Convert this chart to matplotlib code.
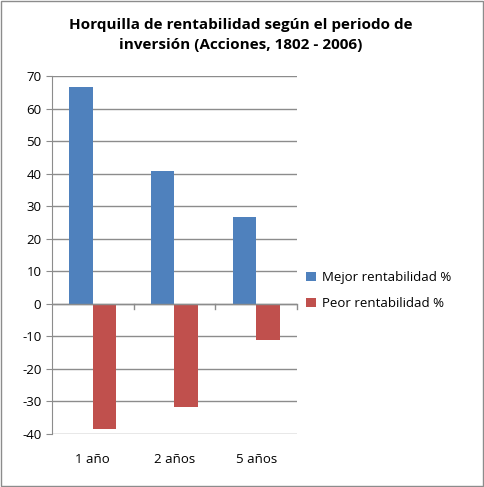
import matplotlib.pyplot as plt
import numpy as np

categorias = ["1 año", "2 años", "5 años"]
mejor = [66.6, 40.8, 26.7]
peor = [-38.6, -31.8, -11.0]

plt.rcParams['font.family'] = ['Open Sans', 'DejaVu Sans']
plt.rcParams['axes.unicode_minus'] = False
fig = plt.figure(figsize=(4.84, 4.87), dpi=100)
ax = fig.add_axes([0.107, 0.109, 0.507, 0.735])

x = np.arange(len(categorias))
w = 0.285
ax.bar(x - w / 2, mejor, w, color="#4f81bd", label="Mejor rentabilidad %", zorder=3)
ax.bar(x + w / 2, peor, w, color="#c0504d", label="Peor rentabilidad %", zorder=3)

ax.set_xlim(-0.5, 2.5)
ax.set_ylim(-40, 70)
ax.set_yticks(range(-40, 71, 10))
ax.yaxis.grid(True, color="#8c8c8c", linewidth=1, zorder=0)
ax.tick_params(axis="y", length=4, color="#8c8c8c", labelsize=9.5)
ax.set_xticks(x)
ax.set_xticklabels(categorias, fontsize=9.5)
ax.tick_params(axis="x", length=0, pad=14)
for b in [0.5, 1.5, 2.5]:
    ax.plot([b, b], [0, -1.5], color="#8c8c8c", lw=1, clip_on=False, zorder=4)
ax.axhline(0, color="#8c8c8c", lw=1, zorder=4)
for s in ["top", "right", "bottom"]:
    ax.spines[s].set_visible(False)
ax.spines["left"].set_color("#8c8c8c")

fig.text(0.497, 0.928, "Horquilla de rentabilidad según el periodo de\ninversión (Acciones, 1802 - 2006)",
         fontsize=11, fontweight="bold", ha="center", va="center", linespacing=1.5)
ax.legend(loc="center left", bbox_to_anchor=(1.0, 0.4), frameon=False, fontsize=9.5,
          handlelength=0.7, handleheight=0.7, labelspacing=1.0, handletextpad=0.5,
          borderaxespad=0.3)

fig.patches.append(plt.Rectangle((0.002, 0.002), 0.996, 0.996, transform=fig.transFigure,
                                 fill=False, edgecolor="#8c8c8c", lw=1))
fig.savefig("out.png", dpi=100)
